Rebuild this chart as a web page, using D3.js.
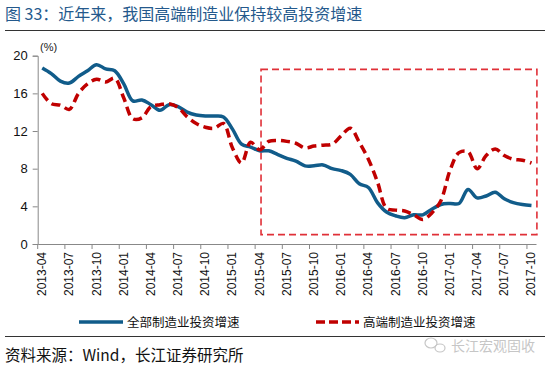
<!DOCTYPE html>
<html>
<head>
<meta charset="utf-8">
<script src="https://cdn.jsdelivr.net/npm/d3@7"></script>
<style>
  body { margin: 0; background: #fff; }
  svg text { font-family: "Liberation Sans", Arial, "Noto Sans CJK SC", sans-serif; }
  .cjk { font-family: "Noto Sans CJK SC", sans-serif; }
</style>
</head>
<body>
<div id="chart"></div>
<script>
// month labels 2013-04 .. 2017-10
var months = [];
for (var y = 2013; y <= 2017; y++) {
    for (var m = 1; m <= 12; m++) {
        if ((y == 2013 && m < 4) || (y == 2017 && m > 10)) continue;
        months.push(y + "-" + (m < 10 ? "0" + m : m));
    }
}

// 全部制造业投资增速 (%)
var allMfg = [18.7, 18.1, 17.3, 17.1, 17.8, 18.4, 19.05, 18.6, 18.4, 17.0,
    15.2, 15.3, 14.8, 14.2, 14.8, 14.6, 14.0, 13.7, 13.6, 13.6,
    13.5, 12.2, 10.6, 10.3, 9.9, 9.9, 9.5, 9.1, 8.8, 8.3,
    8.3, 8.4, 8.0, 7.8, 7.4, 6.4, 6.0, 4.4, 3.4, 3.0,
    2.8, 3.1, 3.1, 3.7, 4.2, 4.3, 4.3, 5.8, 4.9, 5.1,
    5.5, 4.8, 4.4, 4.2, 4.1];

// 高端制造业投资增速 (%)
var highMfg = [16.0, 14.9, 14.75, 14.3, 16.0, 17.0, 17.5, 17.2, 17.6, 15.5,
    13.3, 13.4, 14.6, 14.8, 14.9, 14.5, 13.5, 12.8, 12.4, 12.3,
    12.8, 10.2, 8.6, 10.8, 10.0, 10.9, 11.0, 10.9, 10.7, 10.2,
    10.4, 10.5, 10.6, 11.5, 12.3, 10.8, 9.0, 6.6, 3.8, 3.6,
    3.5, 3.1, 2.6, 3.3, 4.6, 7.8, 9.7, 9.8, 8.0, 9.4,
    10.1, 9.4, 9.0, 8.9, 8.6];

var yTicks = [0, 4, 8, 12, 16, 20];
var tickLabels = months.filter(function(d, i) { return i % 3 == 0; });

var seriesNames = ["全部制造业投资增速", "高端制造业投资增速"];
var title = "图 33：近年来，我国高端制造业保持较高投资增速";
var source = "资料来源：Wind，长江证券研究所";

// highlighted period (category index range, value range)
var boxIdx = [24.15, 54.6];
var boxVal = [1, 18.55];

var width = 550, height = 369;
var svg = d3.select("#chart").append("svg")
    .attr("width", width)
    .attr("height", height);

// title + rule
svg.append("text")
    .attr("class", "cjk")
    .attr("x", 5)
    .attr("y", 20)
    .style("font-size", "16px")
    .style("fill", "#24598c")
    .text(title);
svg.append("line")
    .attr("x1", 5).attr("x2", 545)
    .attr("y1", 30.5).attr("y2", 30.5)
    .style("stroke", "#333").style("stroke-width", 1);

// scales
var x = d3.scaleBand().domain(months).range([37.7, 536]).padding(0);
var xi = d3.scaleLinear().domain([0, months.length - 1])
    .range([x(months[0]) + x.bandwidth() / 2, x(months[months.length - 1]) + x.bandwidth() / 2]);
var yScale = d3.scaleLinear().domain([0, 20]).range([244, 55.7]);

// y axis
var yAxis = svg.append("g")
    .attr("transform", "translate(37.7,0)")
    .call(d3.axisLeft(yScale).tickValues(yTicks).tickSize(5).tickPadding(5));
yAxis.select(".domain").style("stroke", "#888");
yAxis.selectAll(".tick line").style("stroke", "#888");
yAxis.selectAll("text").style("font-size", "13px").style("fill", "#111");

svg.append("text")
    .attr("x", 40)
    .attr("y", 51)
    .style("font-size", "11px")
    .style("fill", "#222")
    .text("(%)");

// x axis: ticks at band start, labels at band centre
var xAxis = svg.append("g")
    .attr("transform", "translate(0,244)")
    .call(d3.axisBottom(x).tickValues(tickLabels).tickSize(5).tickSizeOuter(0).tickFormat(""));
xAxis.select(".domain").style("stroke", "#888");
xAxis.selectAll(".tick line")
    .attr("transform", "translate(" + (-x.bandwidth() / 2) + ",0)")
    .style("stroke", "#888");

svg.append("g").selectAll("text")
    .data(tickLabels)
    .enter()
    .append("text")
    .attr("transform", function(d) {
        return "translate(" + (x(d) + x.bandwidth() / 2 + 4) + ",252) rotate(-90)";
    })
    .attr("text-anchor", "end")
    .style("font-size", "12px")
    .style("fill", "#111")
    .text(function(d) { return d; });

// highlight box
svg.append("rect")
    .attr("x", xi(boxIdx[0]))
    .attr("y", yScale(boxVal[1]))
    .attr("width", xi(boxIdx[1]) - xi(boxIdx[0]))
    .attr("height", yScale(boxVal[0]) - yScale(boxVal[1]))
    .style("fill", "none")
    .style("stroke", "#e03038")
    .style("stroke-width", 1.6)
    .style("stroke-dasharray", "7,4");

// lines
var line = d3.line()
    .x(function(d, i) { return xi(i); })
    .y(function(d) { return yScale(d); })
    .curve(d3.curveCatmullRom.alpha(0.5));

svg.append("path")
    .datum(allMfg)
    .attr("d", line)
    .style("fill", "none")
    .style("stroke", "#115c8a")
    .style("stroke-width", 3.5);

svg.append("path")
    .datum(highMfg)
    .attr("d", line)
    .style("fill", "none")
    .style("stroke", "#c00000")
    .style("stroke-width", 3.5)
    .style("stroke-dasharray", "9,5");

// legend
var legend = svg.append("g");
legend.append("line")
    .attr("x1", 79).attr("x2", 123)
    .attr("y1", 322).attr("y2", 322)
    .style("stroke", "#115c8a").style("stroke-width", 3.5);
legend.append("text")
    .attr("class", "cjk")
    .attr("x", 127).attr("y", 327)
    .style("font-size", "12.5px").style("fill", "#111")
    .text(seriesNames[0]);
legend.append("line")
    .attr("x1", 316).attr("x2", 359)
    .attr("y1", 322).attr("y2", 322)
    .style("stroke", "#c00000").style("stroke-width", 3.5)
    .style("stroke-dasharray", "9,4");
legend.append("text")
    .attr("class", "cjk")
    .attr("x", 363).attr("y", 327)
    .style("font-size", "12.5px").style("fill", "#111")
    .text(seriesNames[1]);

// bottom rule + source
svg.append("line")
    .attr("x1", 5).attr("x2", 545)
    .attr("y1", 336.5).attr("y2", 336.5)
    .style("stroke", "#333").style("stroke-width", 1);
svg.append("text")
    .attr("class", "cjk")
    .attr("x", 5)
    .attr("y", 361)
    .style("font-size", "15.5px")
    .style("fill", "#111")
    .text(source);

// watermark
var wm = svg.append("g").style("opacity", 0.55);
wm.append("ellipse").attr("cx", 431).attr("cy", 343).attr("rx", 6).attr("ry", 5)
    .style("fill", "none").style("stroke", "#999").style("stroke-width", 1.2);
wm.append("ellipse").attr("cx", 440).attr("cy", 348).attr("rx", 5).attr("ry", 4)
    .style("fill", "none").style("stroke", "#999").style("stroke-width", 1.2);
wm.append("text")
    .attr("class", "cjk")
    .attr("x", 451).attr("y", 351)
    .style("font-size", "14px")
    .style("fill", "#999")
    .text("长江宏观固收");
</script>
</body>
</html>
